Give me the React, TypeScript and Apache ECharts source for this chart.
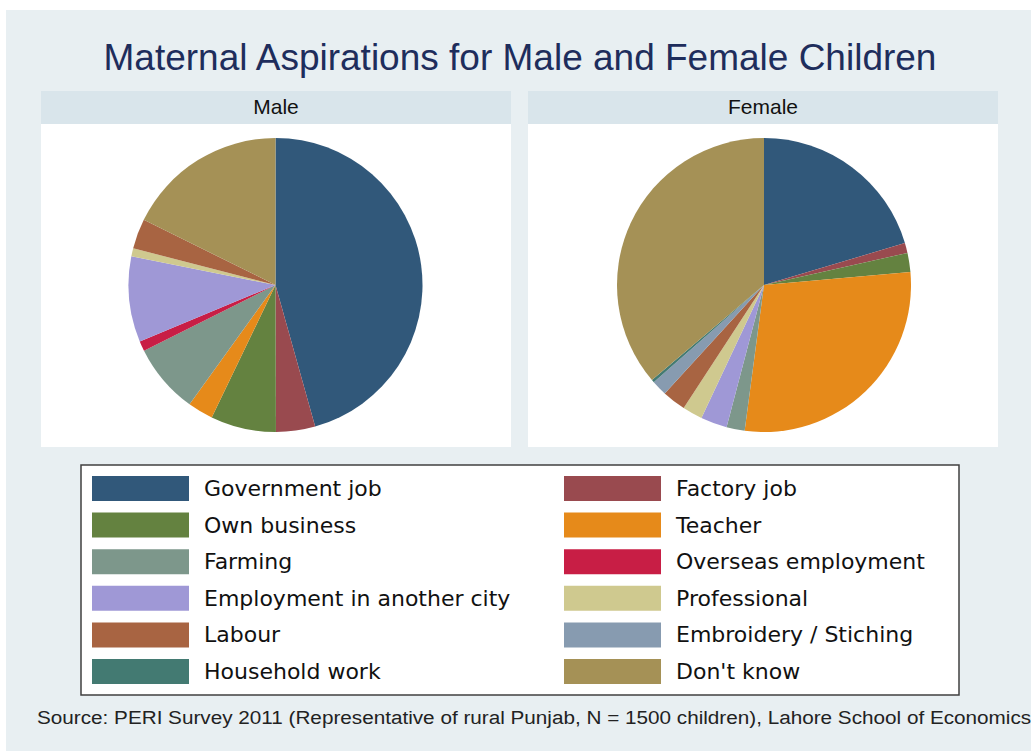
import React, { useEffect, useRef } from "react";
import * as echarts from "echarts";

const categories = [
  "Government job",
  "Factory job",
  "Own business",
  "Teacher",
  "Farming",
  "Overseas employment",
  "Employment in another city",
  "Professional",
  "Labour",
  "Embroidery / Stiching",
  "Household work",
  "Don't know",
];

const colors = [
  "#31587a",
  "#994a4f",
  "#648240",
  "#e68a1a",
  "#7d978b",
  "#c81e45",
  "#9f98d6",
  "#cfc98f",
  "#a86442",
  "#879bb0",
  "#437a72",
  "#a59156",
];

// percentages
const maleValues = [45.7, 4.3, 7.2, 2.8, 7.7, 1.1, 9.4, 0.9, 3.3, 0, 0, 17.7];
const femaleValues = [20.4, 1.1, 2.1, 28.5, 2.0, 0, 2.9, 2.2, 2.6, 1.7, 0.3, 36.2];

const panelTitles = ["Male", "Female"];
const chartTitle = "Maternal Aspirations for Male and Female Children";
const sourceNote =
  "Source: PERI Survey 2011 (Representative of rural Punjab, N = 1500 children), Lahore School of Economics";

const FONT = "'Liberation Sans', Arial, Helvetica, sans-serif";
const WIDE_FONT = "'DejaVu Sans', 'Liberation Sans', Arial, sans-serif";

export default function App() {
  const ref = useRef<HTMLDivElement>(null);

  useEffect(() => {
    if (!ref.current) return;
    const chart = echarts.init(ref.current, undefined, { renderer: "svg" });

    const leftNames = categories.filter((_, i) => i % 2 === 0);
    const rightNames = categories.filter((_, i) => i % 2 === 1);

    const mkData = (vals: number[]) =>
      categories.map((name, i) => ({
        name,
        value: vals[i],
        itemStyle: { color: colors[i] },
      }));

    const panelX = [41, 528];
    const panelW = 470;

    const legendCommon = {
      orient: "vertical" as const,
      top: 476,
      itemWidth: 97,
      itemHeight: 25,
      itemGap: 11.6,
      icon: "rect",
      selectedMode: false,
      padding: 0,
      textStyle: {
        fontFamily: WIDE_FONT,
        fontSize: 22,
        color: "#111",
        padding: [0, 0, 0, 10],
      },
    };

    chart.setOption({
      animation: false,
      backgroundColor: "#ffffff",
      graphic: [
        {
          type: "rect",
          shape: { x: 6, y: 10, width: 1040, height: 760 },
          style: { fill: "#e8eff2" },
          z: -10,
        },
        ...panelX.flatMap((x, k) => [
          {
            type: "rect",
            shape: { x, y: 91, width: panelW, height: 33 },
            style: { fill: "#d9e5eb" },
            z: -5,
          },
          {
            type: "rect",
            shape: { x, y: 124, width: panelW, height: 323 },
            style: { fill: "#ffffff" },
            z: -5,
          },
          {
            type: "text",
            x: x + panelW / 2,
            y: 106.5,
            style: {
              text: panelTitles[k],
              fontFamily: FONT,
              fontSize: 21,
              fill: "#111",
              textAlign: "center",
              textVerticalAlign: "middle",
            },
            z: 5,
          },
        ]),
        {
          type: "text",
          x: 520,
          y: 57,
          style: {
            text: chartTitle,
            fontFamily: FONT,
            fontSize: 37,
            fill: "#1e2d5c",
            textAlign: "center",
            textVerticalAlign: "middle",
          },
        },
        {
          type: "rect",
          shape: { x: 81, y: 465, width: 878, height: 230 },
          style: { fill: "#ffffff", stroke: "#404040", lineWidth: 1.5 },
          z: -5,
        },
        {
          type: "text",
          x: 37,
          y: 717,
          scaleX: 1.09,
          style: {
            text: sourceNote,
            fontFamily: FONT,
            fontSize: 19,
            fill: "#222",
            textAlign: "left",
            textVerticalAlign: "middle",
          },
        },
      ],
      legend: [
        { ...legendCommon, left: 92, data: leftNames },
        { ...legendCommon, left: 564, data: rightNames },
      ],
      series: [maleValues, femaleValues].map((vals, k) => ({
        type: "pie",
        name: panelTitles[k],
        center: [k === 0 ? 275.5 : 764, 285],
        radius: 147,
        startAngle: 90,
        clockwise: true,
        minAngle: 0,
        avoidLabelOverlap: false,
        label: { show: false },
        labelLine: { show: false },
        emphasis: { disabled: true },
        itemStyle: { borderWidth: 0 },
        data: mkData(vals),
      })),
    });

    return () => chart.dispose();
  }, []);

  return (
    <div
      ref={ref}
      style={{ position: "absolute", left: 0, top: 0, width: 1031, height: 751 }}
    />
  );
}
